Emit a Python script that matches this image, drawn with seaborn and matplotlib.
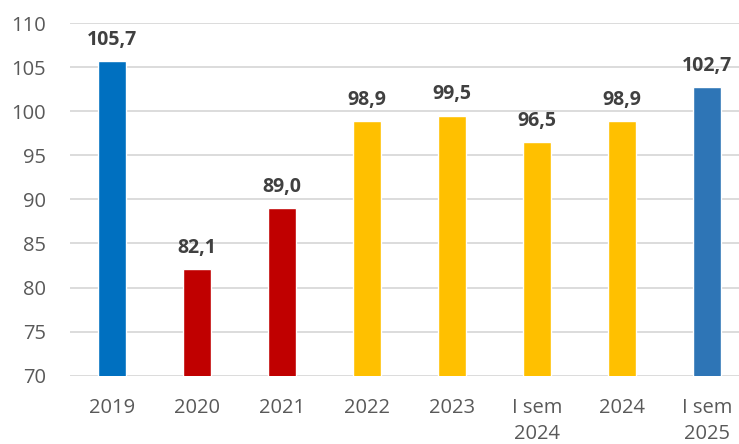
import matplotlib
matplotlib.use("Agg")
import matplotlib.pyplot as plt
import seaborn as sns
import pandas as pd

categories = ["2019", "2020", "2021", "2022", "2023", "I sem\n2024", "2024", "I sem\n2025"]
values = [105.7, 82.1, 89.0, 98.9, 99.5, 96.5, 98.9, 102.7]
colors = ["#0070C0", "#C00000", "#C00000", "#FFC000", "#FFC000", "#FFC000", "#FFC000", "#2E75B6"]
yticks = [70, 75, 80, 85, 90, 95, 100, 105, 110]

sns.set_theme(style="white")
plt.rcParams["font.family"] = ["Open Sans", "DejaVu Sans"]

df = pd.DataFrame({"cat": categories, "val": values})

fig = plt.figure(figsize=(7.39, 4.44), dpi=100)
ax = fig.add_axes([69.5 / 739, 1 - 375.7 / 444, (749.5 - 69.5) / 739, (375.7 - 23) / 444])

sns.barplot(data=df, x="cat", y="val", hue="cat", palette=colors, legend=False,
            width=0.32, ax=ax, saturation=1, zorder=3)

ax.set_ylim(70, 110)
ax.set_xlim(-0.5, 7.5)
ax.set_yticks(yticks)
for t in yticks:
    ax.axhline(t, color="#D9D9D9", lw=1.3, zorder=1)

for s in ax.spines.values():
    s.set_visible(False)

ax.set_xlabel("")
ax.set_ylabel("")
ax.tick_params(axis="y", length=0, pad=17, labelsize=14.5, labelcolor="#595959")
ax.tick_params(axis="x", length=0, pad=16, labelsize=14.5, labelcolor="#595959")
for lab in ax.get_xticklabels():
    lab.set_linespacing(1.38)
    lab.set_verticalalignment("top")

for container in ax.containers:
    ax.bar_label(container, labels=[f"{v:.1f}".replace(".", ",") for v in container.datavalues],
                 padding=8, fontsize=14, fontweight="bold", color="#404040")

fig.savefig("out.png", dpi=100)
